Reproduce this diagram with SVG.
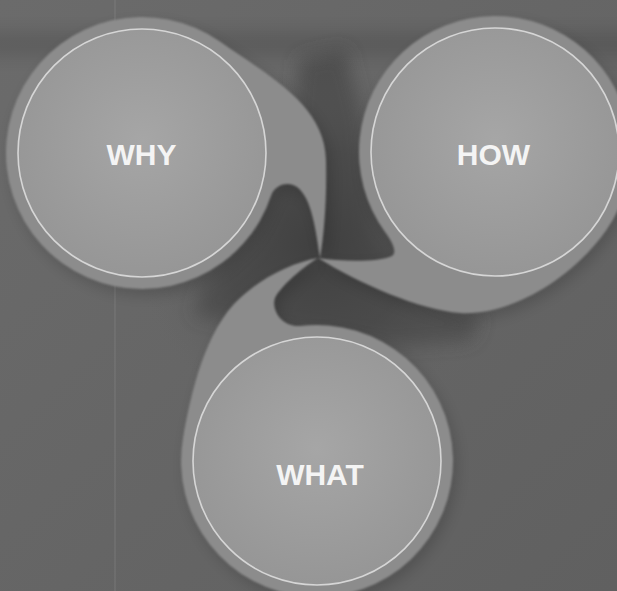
<svg xmlns="http://www.w3.org/2000/svg" width="617" height="591" viewBox="0 0 617 591">
  <defs>
    <style>
      .bubble { fill: #8c8c8c; filter: url(#soft); }
      .drop { fill: #000; opacity: 0.16; filter: url(#blurMid); }
      .inner { fill: url(#innerGrad); }
      .ring { fill: none; stroke: #d6d6d6; stroke-width: 1.6; }
      .label { font-family: "Liberation Sans", Arial, sans-serif; font-weight: bold; font-size: 30px; fill: #f4f4f4; text-anchor: middle; }
    </style>
    <filter id="soft" x="-10%" y="-10%" width="120%" height="120%">
      <feGaussianBlur stdDeviation="1.1"/>
    </filter>
    <filter id="blurMid" x="-20%" y="-20%" width="140%" height="140%">
      <feGaussianBlur stdDeviation="7"/>
    </filter>
    <filter id="blurBig" x="-30%" y="-60%" width="160%" height="220%">
      <feGaussianBlur stdDeviation="9"/>
    </filter>
    <radialGradient id="innerGrad" cx="50%" cy="45%" r="55%">
      <stop offset="0" stop-color="#a6a6a6"/>
      <stop offset="1" stop-color="#969696"/>
    </radialGradient>
    <radialGradient id="shadow" cx="320" cy="245" r="190" gradientUnits="userSpaceOnUse">
      <stop offset="0" stop-color="#3e3e3e" stop-opacity="0.9"/>
      <stop offset="0.5" stop-color="#484848" stop-opacity="0.55"/>
      <stop offset="1" stop-color="#686868" stop-opacity="0"/>
    </radialGradient>
    <linearGradient id="bg" x1="0" y1="0" x2="1" y2="1">
      <stop offset="0" stop-color="#6b6b6b"/>
      <stop offset="1" stop-color="#606060"/>
    </linearGradient>
  </defs>

  <g id="background">
    <rect x="0" y="0" width="617" height="591" fill="url(#bg)"/>
    <rect x="-20" y="32" width="660" height="24" fill="#000" opacity="0.12" filter="url(#blurBig)"/>
    <polygon points="300,60 345,50 362,120 372,235 430,300 480,318 470,340 390,345 290,330 230,320 195,315 205,285 255,240 280,185 295,120" fill="#444" opacity="0.75" filter="url(#blurBig)"/>
    <rect x="0" y="0" width="617" height="591" fill="url(#shadow)"/>
    <line x1="115" y1="0" x2="115" y2="591" stroke="#9a9a9a" stroke-width="1" opacity="0.35"/>
  </g>

  <g id="connectors"></g>

  <g id="why">
    <path class="drop" transform="translate(4,6)" d="M 220 41.6 C 269 76 325 105 326 160 C 327 200 324 235 320 258 C 316 232 312 198 297 187 C 287 180 274.3 186 271.3 195 A 136 136 0 1 1 220 41.6 Z"/>
    <path class="bubble" d="M 220 41.6 C 269 76 325 105 326 160 C 327 200 324 235 320 258 C 316 232 312 198 297 187 C 287 180 274.3 186 271.3 195 A 136 136 0 1 1 220 41.6 Z"/>
    <circle class="inner" cx="142" cy="153" r="124"/>
    <circle class="ring" cx="142" cy="153" r="124"/>
    <text class="label" x="141.5" y="165">WHY</text>
  </g>

  <g id="how">
    <path class="drop" transform="translate(4,6)" d="M 606.4 230 C 572 279 510 316 460 313 C 420 310 360 284 318 258 C 345 262 378 262 392 256 C 398 252 391 240 385 232 A 136 136 0 1 1 606.4 230 Z"/>
    <path class="bubble" d="M 606.4 230 C 572 279 510 316 460 313 C 420 310 360 284 318 258 C 345 262 378 262 392 256 C 398 252 391 240 385 232 A 136 136 0 1 1 606.4 230 Z"/>
    <circle class="inner" cx="495" cy="152" r="124"/>
    <circle class="ring" cx="495" cy="152" r="124"/>
    <text class="label" x="493.5" y="165">HOW</text>
  </g>

  <g id="what">
    <path class="drop" transform="translate(4,6)" d="M 183.1 437.4 C 191 393 205 330 240 298 C 265 275 295 262 318 258 C 305 266 285 282 276 296 C 270 306 279 327 300 326 A 136 136 0 1 1 183.1 437.4 Z"/>
    <path class="bubble" d="M 183.1 437.4 C 191 393 205 330 240 298 C 265 275 295 262 318 258 C 305 266 285 282 276 296 C 270 306 279 327 300 326 A 136 136 0 1 1 183.1 437.4 Z"/>
    <circle class="inner" cx="317" cy="461" r="124"/>
    <circle class="ring" cx="317" cy="461" r="124"/>
    <text class="label" x="320" y="485">WHAT</text>
  </g>
</svg>
